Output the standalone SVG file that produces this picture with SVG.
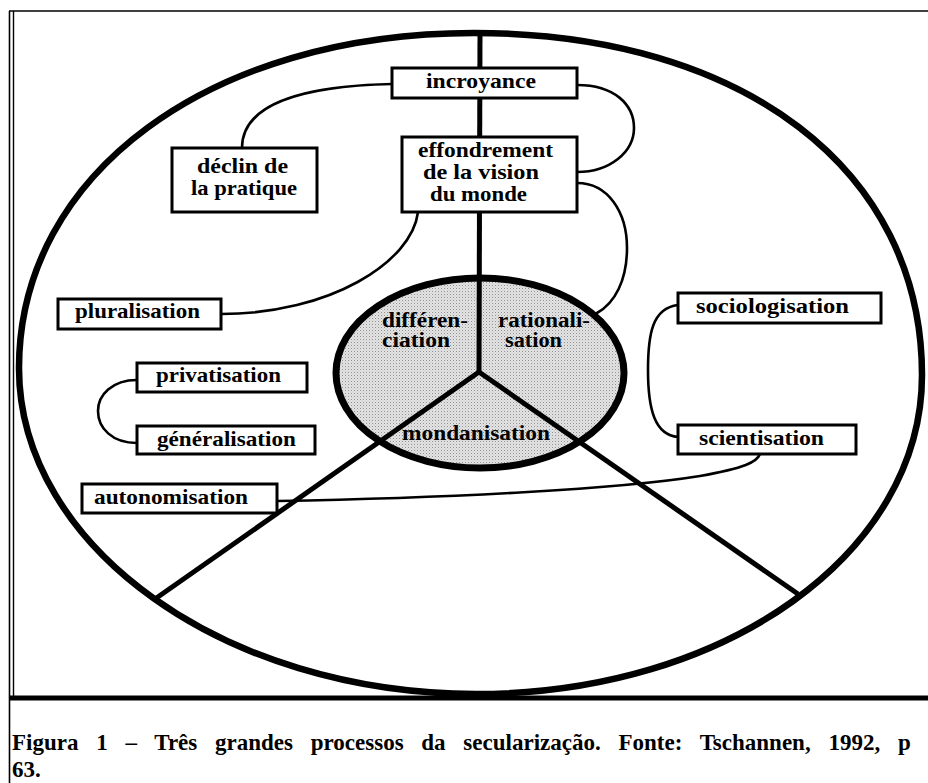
<svg xmlns="http://www.w3.org/2000/svg" width="928" height="783" viewBox="0 0 928 783">
  <defs>
    <pattern id="stip" width="3" height="3" patternUnits="userSpaceOnUse">
      <rect width="3" height="3" fill="#e4e4e4"/>
      <rect width="1" height="1" fill="#8e8e8e"/>
      <rect x="1.5" y="1.5" width="1" height="1" fill="#b8b8b8"/>
    </pattern>
  </defs>
  <style>
    .box { fill: #ffffff; stroke: #000000; stroke-width: 3; }
    .conn { fill: none; stroke: #000000; stroke-width: 2.6; stroke-linecap: round; }
    .spoke { fill: none; stroke: #000000; stroke-width: 5; stroke-linecap: butt; }
    .lbl { font-family: "Liberation Serif", "Times New Roman", serif; font-weight: bold; font-size: 21px; fill: #000000; }
    .clbl { font-family: "Liberation Serif", "Times New Roman", serif; font-weight: bold; font-size: 20px; fill: #000000; }
    .cap { font-family: "Liberation Serif", "Times New Roman", serif; font-weight: bold; font-size: 23px; fill: #000000; }
    .frame { stroke: #000000; fill: none; }
  </style>
  <rect width="928" height="783" fill="#ffffff"/>

  <g id="frame">
    <line class="frame" x1="9" y1="11" x2="928" y2="11" stroke-width="1.6"/>
    <line class="frame" x1="9.5" y1="11" x2="9.5" y2="783" stroke-width="1.6"/>
    <line class="frame" x1="13.5" y1="11" x2="13.5" y2="697" stroke-width="1.4"/>
    <line class="frame" x1="9" y1="698" x2="928" y2="698" stroke-width="5"/>
  </g>

  <g id="outer-ellipse">
    <path d="M19,368 C19,174 210,33 474,33 C743,33 922,170 922,375 C922,553 726,694 476,694 C225,694 19,547 19,368 Z" fill="none" stroke="#000000" stroke-width="6.5"/>
  </g>

  <g id="center-circle">
    <ellipse cx="480" cy="373" rx="144" ry="95" fill="url(#stip)" stroke="#000000" stroke-width="7"/>
  </g>

  <g id="spokes">
    <line class="spoke" x1="480" y1="32" x2="479" y2="372" stroke-width="4.5"/>
    <line class="spoke" x1="479" y1="372" x2="155" y2="599" stroke-width="5.5"/>
    <line class="spoke" x1="479" y1="372" x2="798" y2="594" stroke-width="5.5"/>
  </g>

  <g id="connectors">
    <path class="conn" d="M392,84 C300,86 242,105 242,148"/>
    <path class="conn" d="M577,85 C615,85 634,105 634,128 C634,152 610,172 577,172"/>
    <path class="conn" d="M577,183 C608,183 627,212 627,248 C627,280 615,303 597,313"/>
    <path class="conn" d="M418,212 C412,262 330,314 221,314"/>
    <path class="conn" d="M137,380 C112,380 98,395 98,411 C98,428 112,443 137,443"/>
    <path class="conn" d="M678,305 C652,308 648,335 648,370 C648,410 655,435 678,437"/>
    <path class="conn" d="M277,501 C450,498 620,489 700,476 C745,468 757,462 760,454"/>
  </g>

  <g id="center-labels">
    <text class="clbl" x="382" y="327" textLength="86" lengthAdjust="spacingAndGlyphs">différen-</text>
    <text class="clbl" x="382" y="347" textLength="68" lengthAdjust="spacingAndGlyphs">ciation</text>
    <text class="clbl" x="498" y="327" textLength="92" lengthAdjust="spacingAndGlyphs">rationali-</text>
    <text class="clbl" x="505" y="347" textLength="57" lengthAdjust="spacingAndGlyphs">sation</text>
    <text class="clbl" x="402" y="440" textLength="148" lengthAdjust="spacingAndGlyphs">mondanisation</text>
  </g>

  <g id="node-incroyance">
    <rect class="box" x="392" y="68" width="185" height="30"/>
    <text class="lbl" x="426" y="88" textLength="110" lengthAdjust="spacingAndGlyphs">incroyance</text>
  </g>
  <g id="node-effondrement">
    <rect class="box" x="402" y="137" width="175" height="75"/>
    <text class="lbl" x="418" y="157" textLength="135" lengthAdjust="spacingAndGlyphs">effondrement</text>
    <text class="lbl" x="423" y="179" textLength="116" lengthAdjust="spacingAndGlyphs">de la vision</text>
    <text class="lbl" x="430" y="201" textLength="97" lengthAdjust="spacingAndGlyphs">du monde</text>
  </g>
  <g id="node-declin">
    <rect class="box" x="172" y="148" width="145" height="64"/>
    <text class="lbl" x="197" y="173" textLength="91" lengthAdjust="spacingAndGlyphs">déclin de</text>
    <text class="lbl" x="191" y="195" textLength="106" lengthAdjust="spacingAndGlyphs">la pratique</text>
  </g>
  <g id="node-pluralisation">
    <rect class="box" x="58" y="299" width="163" height="30"/>
    <text class="lbl" x="75" y="318" textLength="125" lengthAdjust="spacingAndGlyphs">pluralisation</text>
  </g>
  <g id="node-privatisation">
    <rect class="box" x="137" y="363" width="170" height="29"/>
    <text class="lbl" x="156" y="382" textLength="125" lengthAdjust="spacingAndGlyphs">privatisation</text>
  </g>
  <g id="node-generalisation">
    <rect class="box" x="137" y="426" width="178" height="28"/>
    <text class="lbl" x="157" y="446" textLength="139" lengthAdjust="spacingAndGlyphs">généralisation</text>
  </g>
  <g id="node-autonomisation">
    <rect class="box" x="82" y="484" width="195" height="29"/>
    <text class="lbl" x="94" y="504" textLength="154" lengthAdjust="spacingAndGlyphs">autonomisation</text>
  </g>
  <g id="node-sociologisation">
    <rect class="box" x="678" y="293" width="203" height="30"/>
    <text class="lbl" x="696" y="313" textLength="153" lengthAdjust="spacingAndGlyphs">sociologisation</text>
  </g>
  <g id="node-scientisation">
    <rect class="box" x="678" y="425" width="178" height="29"/>
    <text class="lbl" x="699" y="445" textLength="125" lengthAdjust="spacingAndGlyphs">scientisation</text>
  </g>

  <g id="caption">
    <text class="cap" x="12" y="750" word-spacing="12">Figura 1 – Três grandes processos da secularização. Fonte: Tschannen, 1992, p</text>
    <text class="cap" x="12" y="777">63.</text>
  </g>
</svg>
